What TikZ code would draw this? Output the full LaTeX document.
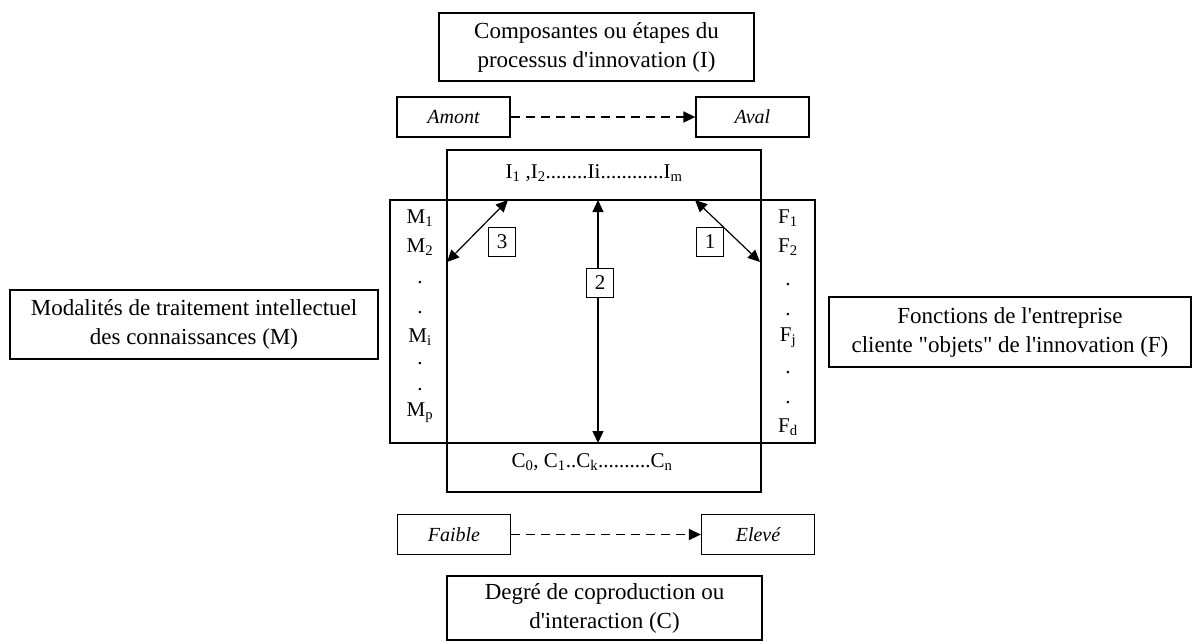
\documentclass[tikz,border=0pt]{standalone}
\usepackage{fontspec}
\setmainfont{Liberation Serif}[Ligatures=TeXOff]
\usetikzlibrary{arrows.meta}

\tikzset{
  titlebox/.style={draw, line width=1.3pt, align=center, inner sep=0pt, font=\fontsize{23}{29}\selectfont},
  endbox/.style={draw, line width=1.3pt, inner sep=0pt, minimum width=113pt, minimum height=40pt, font=\fontsize{20}{24}\selectfont\itshape},
  numbox/.style={draw, fill=white, line width=1.2pt, inner sep=0pt, minimum width=27pt, minimum height=29pt, font=\fontsize{21}{25}\selectfont},
  idx/.style={font=\fontsize{21}{25}\selectfont, inner sep=0pt},
  twotips/.style={{Triangle[length=12pt,width=11pt]}-{Triangle[length=12pt,width=11pt]}, line width=1.2pt},
  flow/.style={-{Triangle[length=12pt,width=11pt]}, line width=1.5pt, dash pattern=on 9pt off 6pt},
}

\begin{document}
\begin{tikzpicture}[x=1pt,y=-1pt]
	\useasboundingbox (0,0) rectangle (1194,641);
	\node[titlebox, minimum width=315pt, minimum height=68pt] (compI) at (596.5,47) {Composantes ou étapes du\\processus d'innovation (I)};
	\node[endbox] (amont) at (453.5,117) {Amont};
	\node[endbox] (aval) at (752.5,117) {Aval};
	\draw[flow] (amont) -- (aval);

	% les deux cadres croises
	\draw[line width=1.5pt] (447,150) rectangle (761,492);
	\draw[line width=1.5pt] (390,200) rectangle (815,443);

	\node[idx] (Irow) at (594,173) {I\textsubscript{1} ,I\textsubscript{2}........Ii............I\textsubscript{m}};
	\node[idx] (Crow) at (592,462) {C\textsubscript{0}, C\textsubscript{1}..C\textsubscript{k}..........C\textsubscript{n}};

	\foreach \y/\t [count=\i] in {218/M\textsubscript{1}, 247/M\textsubscript{2}, 283/., 313/., 337/M\textsubscript{i}, 364/., 390/., 413/M\textsubscript{p}}
		\node[idx] (m\i) at (420,\y) {\t};
	\foreach \y/\t [count=\i] in {218/F\textsubscript{1}, 247/F\textsubscript{2}, 285/., 315/., 338/F\textsubscript{j}, 373/., 403/., 427/F\textsubscript{d}}
		\node[idx] (f\i) at (788,\y) {\t};

	\coordinate (t3) at (508,200);
	\coordinate (b3) at (447,262);
	\coordinate (t2) at (598,200);
	\coordinate (b2) at (598,443);
	\coordinate (t1) at (695,200);
	\coordinate (b1) at (760,262);
	\draw[twotips] (t3) -- (b3);
	\draw[twotips] (t2) -- (b2);
	\draw[twotips] (t1) -- (b1);
	\node[numbox] (n3) at (502,242) {3};
	\node[numbox] (n2) at (600,283) {2};
	\node[numbox] (n1) at (710,242) {1};

	\node[titlebox, minimum width=368pt, minimum height=69pt] (modM) at (194,324.5) {Modalités de traitement intellectuel\\des connaissances (M)};
	\node[titlebox, minimum width=362pt, minimum height=70pt] (fonF) at (1010,332) {Fonctions de l'entreprise\\cliente "objets" de l'innovation (F)};

	\node[endbox] (faible) at (454,534.5) {Faible};
	\node[endbox] (eleve) at (758,534.5) {Elevé};
	\draw[flow] (faible) -- (eleve);
	\node[titlebox, minimum width=315pt, minimum height=64pt] (degC) at (604.5,608) {Degré de coproduction ou\\d'interaction (C)};
\end{tikzpicture}
\end{document}
